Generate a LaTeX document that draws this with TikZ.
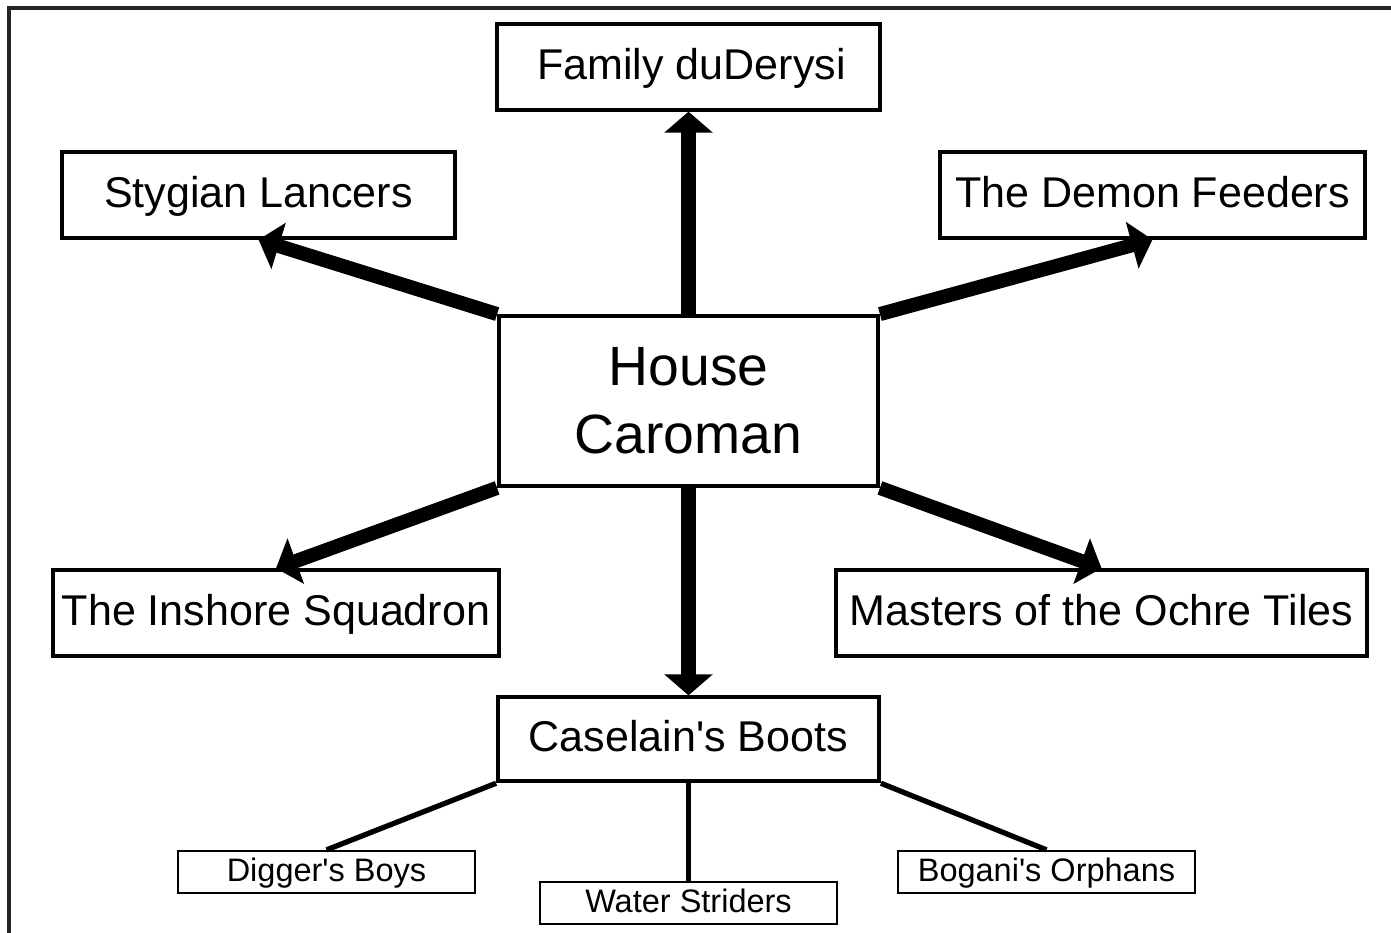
\documentclass[tikz,border=0pt]{standalone}
\usepackage{fontspec}
\setmainfont{Liberation Sans}
\usetikzlibrary{arrows.meta, positioning}

\begin{document}
\begin{tikzpicture}[x=0.02cm, y=-0.02cm,
    box/.style={rectangle, draw, line width=2.2pt, minimum height=1.71cm, inner sep=0pt, text height=18pt, text depth=4pt, font=\fontsize{24.5}{29}\selectfont},
    bigbox/.style={box, minimum width=7.58cm, minimum height=3.4cm, align=center, text height=, text depth=, font=\fontsize{31.5}{38.5}\selectfont},
    smallbox/.style={rectangle, draw, line width=1.3pt, minimum width=5.94cm, minimum height=0.84cm, inner sep=0pt, text height=13.5pt, text depth=3pt, font=\fontsize{18.5}{21}\selectfont},
    link/.style={line width=8pt, -{Triangle[length=12pt, width=27pt]}},
    twig/.style={line width=3pt}
]
\useasboundingbox (0,0) rectangle (1391,932);
\draw[line width=2.3pt, black!85] (9,960) |- (1420,8);

\node[bigbox] (caroman) at (688.5,401) {House\\Caroman};
\node[box, minimum width=7.66cm, above=4.05cm of caroman] (family) {\hspace*{0.12cm}Family duDerysi};
\node[box, minimum width=7.86cm] (stygian) at (258.5,195) {Stygian Lancers};
\node[box, minimum width=8.5cm] (demon) at (1152.5,195) {The Demon Feeders};
\node[box, minimum width=8.92cm] (inshore) at (276,613) {The Inshore Squadron};
\node[box, minimum width=10.62cm] (masters) at (1101.5,613) {Masters of the Ochre Tiles};
\node[box, minimum width=7.62cm, minimum height=1.68cm, below=4.15cm of caroman] (caselain) {Caselain\textquotesingle s Boots};

\node[smallbox] (digger) at (326.5,872) {Digger\textquotesingle s Boys};
\node[smallbox, below=1.95cm of caselain] (water) {Water Striders};
\node[smallbox] (bogani) at (1046.5,872) {Bogani\textquotesingle s Orphans};

\draw[link] (caroman.north) -- (family.south);
\draw[link] (caroman.north west) -- (stygian.south);
\draw[link] (caroman.north east) -- (demon.south);
\draw[link] (caroman.south west) -- (inshore.north);
\draw[link] (caroman.south east) -- (masters.north);
\draw[link] (caroman.south) -- (caselain.north);

\draw[twig] (caselain.south west) -- (digger.north);
\draw[twig] (caselain.south) -- (water.north);
\draw[twig] (caselain.south east) -- (bogani.north);
\end{tikzpicture}
\end{document}
